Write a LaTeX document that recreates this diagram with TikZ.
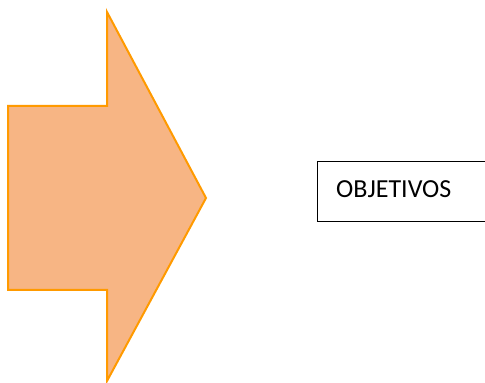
\documentclass[tikz,border=0pt]{standalone}
\usepackage{fontspec}
\setmainfont{Carlito}
\definecolor{arrfill}{HTML}{F7B584}
\definecolor{arrdraw}{HTML}{FF9A00}
\begin{document}
\begin{tikzpicture}[x=1pt,y=1pt,
  arrowshape/.style={fill=arrfill,draw=arrdraw,line width=2pt,line join=miter},
  boxstyle/.style={draw=black,line width=1pt,minimum width=180pt,minimum height=60pt,anchor=south west,inner sep=0pt},
  lbl/.style={font=\fontsize{26}{30}\selectfont,anchor=base west,inner sep=0pt}]
\useasboundingbox (0,0) rectangle (485,383);
\path[arrowshape] (107,371) -- (206,185) -- (107,2) -- (107,93) -- (8,93) -- (8,277) -- (107,277) -- cycle;
\node[boxstyle] (box) at (317,161) {};
\node[lbl] (txt) at (336,185) {OBJETIVOS};
\end{tikzpicture}
\end{document}
